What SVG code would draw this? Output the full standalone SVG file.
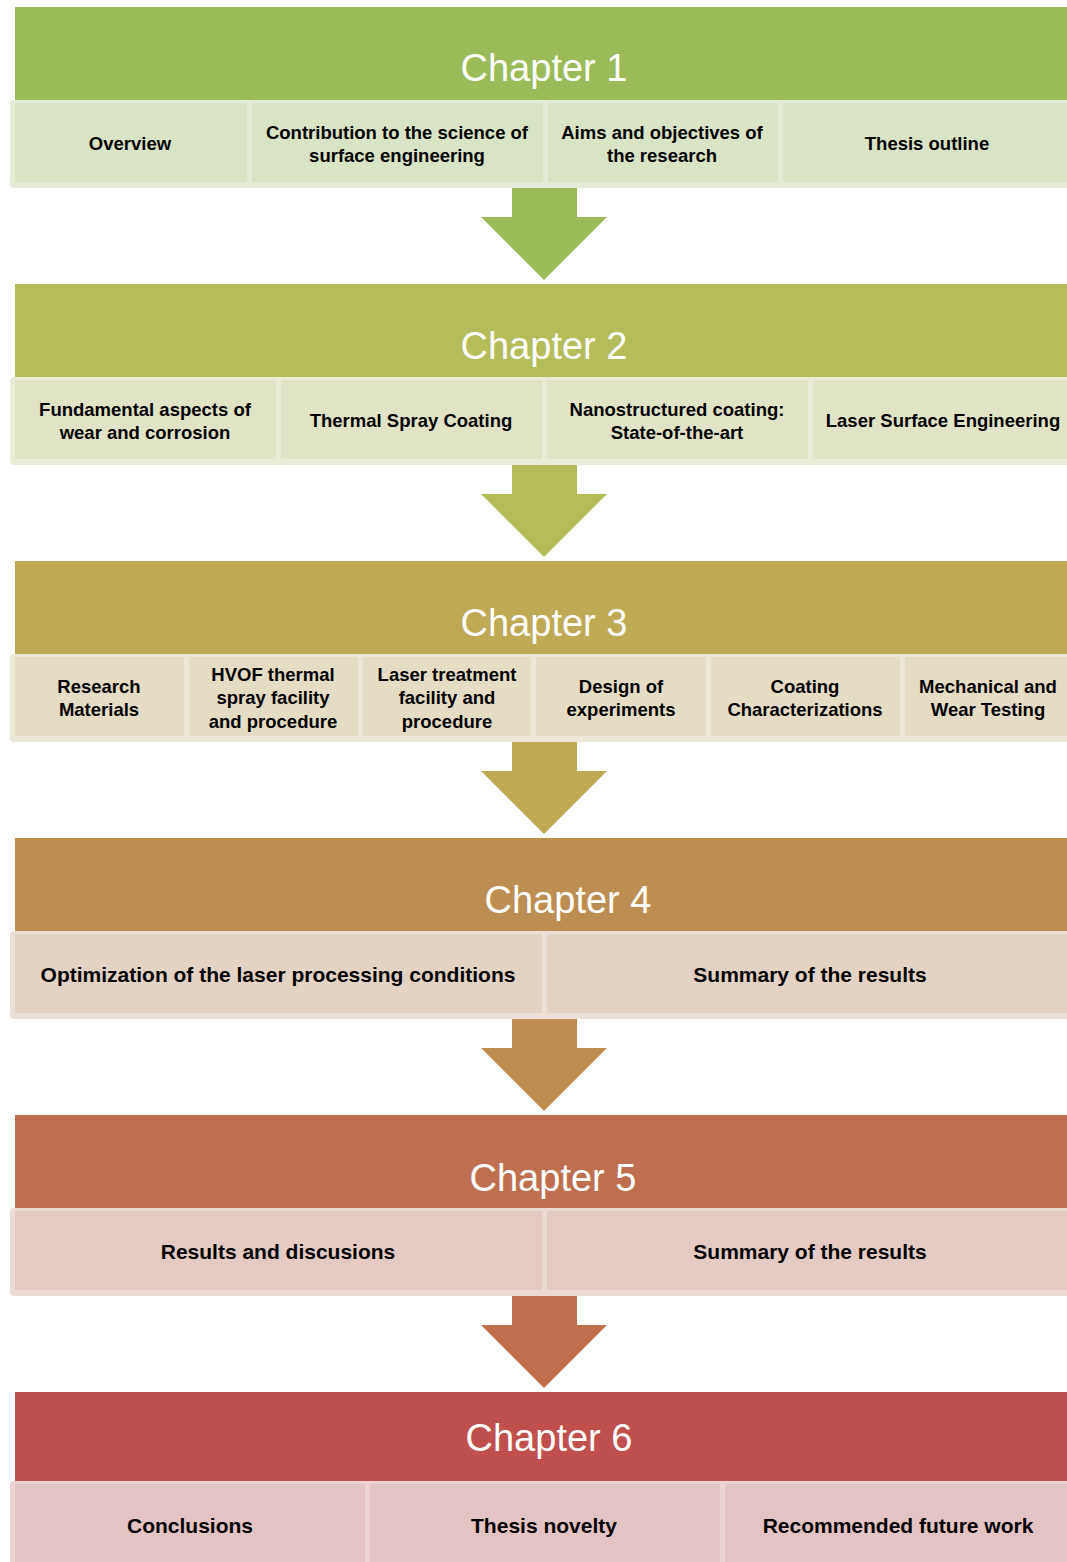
<svg xmlns="http://www.w3.org/2000/svg" width="1067" height="1562" viewBox="0 0 1067 1562">
<style>
.title{font-family:"Liberation Sans",Arial,sans-serif;font-size:38px;fill:#ffffff;text-anchor:middle}
.lbl{font-family:"Liberation Sans",Arial,sans-serif;font-size:18.5px;font-weight:bold;fill:#000000;text-anchor:middle}
.big{font-size:21px}
.c1h{fill:#9BBB59}.c1b{fill:#E4EBD6}.c1i{fill:#D9E3C5}
.c2h{fill:#B5BC5A}.c2b{fill:#EBECD8}.c2i{fill:#E1E3C7}
.c3h{fill:#BEA954}.c3b{fill:#EDE7D7}.c3i{fill:#E4DCC5}
.c4h{fill:#BE8D51}.c4b{fill:#ECE1D7}.c4i{fill:#E3D3C4}
.c5h{fill:#BF6F4F}.c5b{fill:#ECDAD4}.c5i{fill:#E3CBC3}
.c6h{fill:#C0504D}.c6b{fill:#ECD4D3}.c6i{fill:#E3C4C4}
</style>
<rect width="1067" height="1562" fill="#ffffff"/>
<g id="connectors">
<path class="c1h" d="M512,188 H577 V217 H607 L544,280 L481,217 H512 Z"/>
<path class="c2h" d="M512,465 H577 V494 H607 L544,557 L481,494 H512 Z"/>
<path class="c3h" d="M512,742 H577 V771 H607 L544,834 L481,771 H512 Z"/>
<path class="c4h" d="M512,1019 H577 V1048 H607 L544,1111 L481,1048 H512 Z"/>
<path class="c5h" d="M512,1296 H577 V1325 H607 L544,1388 L481,1325 H512 Z"/>
</g>
<!-- Chapter 1 -->
<g id="chapter1">
<rect class="c1h" x="15" y="7" width="1060" height="93"/>
<text class="title" x="544" y="81">Chapter 1</text>
<rect class="c1b" x="10" y="100" width="1070" height="88" rx="4"/>
</g>
<g id="ch1-overview"><rect class="c1i" x="15" y="103" width="232" height="79"/><text class="lbl" x="130" y="150">Overview</text></g>
<g id="ch1-contribution"><rect class="c1i" x="252" y="103" width="291" height="79"/><text class="lbl" x="397" y="139">Contribution to the science of</text><text class="lbl" x="397" y="162">surface engineering</text></g>
<g id="ch1-aims"><rect class="c1i" x="548" y="103" width="230" height="79"/><text class="lbl" x="662" y="139">Aims and objectives of</text><text class="lbl" x="662" y="162">the research</text></g>
<g id="ch1-outline"><rect class="c1i" x="783" y="103" width="290" height="79"/><text class="lbl" x="927" y="150">Thesis outline</text></g>
<!-- Chapter 2 -->
<g id="chapter2">
<rect class="c2h" x="15" y="284" width="1060" height="93"/>
<text class="title" x="544" y="359">Chapter 2</text>
<rect class="c2b" x="10" y="377" width="1070" height="88" rx="4"/>
</g>
<g id="ch2-fundamental"><rect class="c2i" x="15" y="380" width="261" height="79"/><text class="lbl" x="145" y="416">Fundamental aspects of</text><text class="lbl" x="145" y="439">wear and corrosion</text></g>
<g id="ch2-thermal"><rect class="c2i" x="281" y="380" width="261" height="79"/><text class="lbl" x="411" y="427">Thermal Spray Coating</text></g>
<g id="ch2-nano"><rect class="c2i" x="547" y="380" width="261" height="79"/><text class="lbl" x="677" y="416">Nanostructured coating:</text><text class="lbl" x="677" y="439">State-of-the-art</text></g>
<g id="ch2-laser"><rect class="c2i" x="813" y="380" width="260" height="79"/><text class="lbl" x="943" y="427">Laser Surface Engineering</text></g>
<!-- Chapter 3 -->
<g id="chapter3">
<rect class="c3h" x="15" y="561" width="1060" height="93"/>
<text class="title" x="544" y="636">Chapter 3</text>
<rect class="c3b" x="10" y="654" width="1070" height="88" rx="4"/>
</g>
<g id="ch3-materials"><rect class="c3i" x="15" y="657" width="169" height="79"/><text class="lbl" x="99" y="693">Research</text><text class="lbl" x="99" y="716">Materials</text></g>
<g id="ch3-hvof"><rect class="c3i" x="189" y="657" width="169" height="79"/><text class="lbl" x="273" y="681">HVOF thermal</text><text class="lbl" x="273" y="704">spray facility</text><text class="lbl" x="273" y="728">and procedure</text></g>
<g id="ch3-laser"><rect class="c3i" x="363" y="657" width="168" height="79"/><text class="lbl" x="447" y="681">Laser treatment</text><text class="lbl" x="447" y="704">facility and</text><text class="lbl" x="447" y="728">procedure</text></g>
<g id="ch3-design"><rect class="c3i" x="536" y="657" width="170" height="79"/><text class="lbl" x="621" y="693">Design of</text><text class="lbl" x="621" y="716">experiments</text></g>
<g id="ch3-coating"><rect class="c3i" x="711" y="657" width="189" height="79"/><text class="lbl" x="805" y="693">Coating</text><text class="lbl" x="805" y="716">Characterizations</text></g>
<g id="ch3-mechanical"><rect class="c3i" x="905" y="657" width="170" height="79"/><text class="lbl" x="988" y="693">Mechanical and</text><text class="lbl" x="988" y="716">Wear Testing</text></g>
<!-- Chapter 4 -->
<g id="chapter4">
<rect class="c4h" x="15" y="838" width="1060" height="93"/>
<text class="title" x="568" y="913">Chapter 4</text>
<rect class="c4b" x="10" y="931" width="1070" height="88" rx="4"/>
</g>
<g id="ch4-optimization"><rect class="c4i" x="15" y="934" width="527" height="79"/><text class="lbl big" x="278" y="982">Optimization of the laser processing conditions</text></g>
<g id="ch4-summary"><rect class="c4i" x="547" y="934" width="526" height="79"/><text class="lbl big" x="810" y="982">Summary of the results</text></g>
<!-- Chapter 5 -->
<g id="chapter5">
<rect class="c5h" x="15" y="1115" width="1060" height="93"/>
<text class="title" x="553" y="1191">Chapter 5</text>
<rect class="c5b" x="10" y="1208" width="1070" height="88" rx="4"/>
</g>
<g id="ch5-results"><rect class="c5i" x="15" y="1211" width="527" height="79"/><text class="lbl big" x="278" y="1259">Results and discusions</text></g>
<g id="ch5-summary"><rect class="c5i" x="547" y="1211" width="526" height="79"/><text class="lbl big" x="810" y="1259">Summary of the results</text></g>
<!-- Chapter 6 -->
<g id="chapter6">
<rect class="c6h" x="15" y="1392" width="1060" height="89"/>
<text class="title" x="549" y="1451">Chapter 6</text>
<rect class="c6b" x="10" y="1481" width="1070" height="88" rx="4"/>
</g>
<g id="ch6-conclusions"><rect class="c6i" x="15" y="1484" width="350" height="85"/><text class="lbl big" x="190" y="1533">Conclusions</text></g>
<g id="ch6-novelty"><rect class="c6i" x="370" y="1484" width="350" height="85"/><text class="lbl big" x="544" y="1533">Thesis novelty</text></g>
<g id="ch6-future"><rect class="c6i" x="725" y="1484" width="350" height="85"/><text class="lbl big" x="898" y="1533">Recommended future work</text></g>
</svg>
